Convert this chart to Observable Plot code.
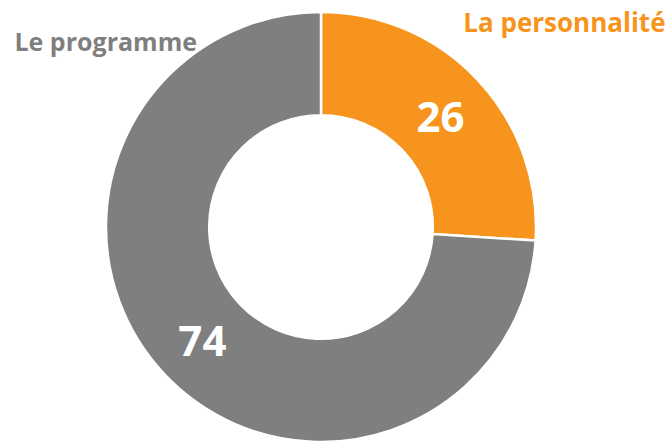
<!DOCTYPE html>
<html>
<head>
<meta charset="utf-8">
<script src="https://cdn.jsdelivr.net/npm/d3@7"></script>
<script src="https://cdn.jsdelivr.net/npm/@observablehq/plot@0.6"></script>
<style>
  html, body { margin: 0; padding: 0; background: #fff; }
  #chart svg { display: block; }
</style>
</head>
<body>
<div id="chart"></div>
<script>
const categories = ["La personnalité", "Le programme"];
const values = [26, 74];
const colors = ["#F7941D", "#7F7F7F"];

const W = 671, H = 442;
const CX = 321, CY = 227, R = 215;
const INNER = 0.52;

const pie = d3.pie().sort(null).value(d => d.value)(
  categories.map((c, i) => ({category: c, value: values[i]}))
);
const mid = (1 + INNER) / 2;
const slices = pie.map(p => {
  const a = (p.startAngle + p.endAngle) / 2;
  return {
    category: p.data.category,
    value: p.data.value,
    startAngle: p.startAngle,
    endAngle: p.endAngle,
    cx: mid * Math.sin(a),
    cy: mid * Math.cos(a)
  };
});

function donut(index, scales) {
  const x0 = scales.x(0), y0 = scales.y(0);
  const r = scales.x(1) - scales.x(0);
  const arc = d3.arc().innerRadius(r * INNER).outerRadius(r);
  const g = d3.create("svg:g").attr("transform", `translate(${x0},${y0})`);
  g.selectAll("path").data(slices).join("path")
    .attr("d", d => arc(d))
    .attr("fill", d => scales.color(d.category))
    .attr("stroke", "#fff")
    .attr("stroke-width", 2.5)
    .attr("stroke-linejoin", "miter");
  return g.node();
}

const chart = Plot.plot({
  width: W,
  height: H,
  margin: 0,
  x: {domain: [(0 - CX) / R, (W - CX) / R], axis: null},
  y: {domain: [(CY - H) / R, CY / R], axis: null},
  color: {domain: categories, range: colors},
  style: {fontFamily: "'Open Sans', sans-serif", background: "#fff"},
  marks: [
    donut,
    Plot.text(slices, {
      x: "cx", y: "cy", text: d => String(d.value), dy: 3,
      fill: "#fff", fontSize: 42, fontWeight: 700
    }),
    Plot.text([categories[0]], {
      x: 1.6, y: 0.95, text: d => d, textAnchor: "end",
      fill: colors[0], fontSize: 26, fontWeight: 700
    }),
    Plot.text([categories[1]], {
      x: -1.428, y: 0.86, text: d => d, textAnchor: "start",
      fill: colors[1], fontSize: 25, fontWeight: 700
    })
  ]
});
document.getElementById("chart").appendChild(chart);
</script>
</body>
</html>
